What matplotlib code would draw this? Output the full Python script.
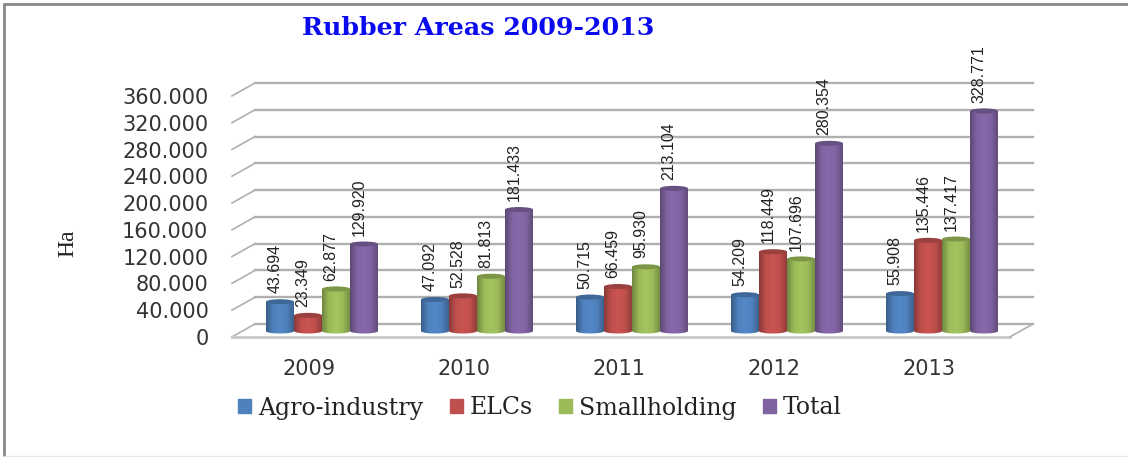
import numpy as np
import matplotlib
matplotlib.use('Agg')
import matplotlib.pyplot as plt
from matplotlib.colors import LinearSegmentedColormap, to_rgb
from matplotlib.lines import Line2D
from matplotlib.patches import Ellipse, Polygon, Rectangle
from matplotlib.transforms import ScaledTranslation

years = ['2009', '2010', '2011', '2012', '2013']
agro = [43694, 47092, 50715, 54209, 55908]
elcs = [23349, 52528, 66459, 118449, 135446]
small = [62877, 81813, 95930, 107696, 137417]
total = [129920, 181433, 213104, 280354, 328771]
names = ['Agro-industry', 'ELCs', 'Smallholding', 'Total']
colors = ['#4F81BD', '#C0504D', '#9BBB59', '#8064A2']
yticks = [0, 40000, 80000, 120000, 160000, 200000, 240000, 280000, 320000, 360000]


def dotted(v):
    return f'{v:,}'.replace(',', '.')


def shade(c, f):
    return tuple(min(1, x * f) for x in to_rgb(c))


fig = plt.figure(figsize=(11.28, 4.57), dpi=100)
ax = fig.add_axes([232 / 1128, (457 - 331) / 457, 778 / 1128, 241 / 457])

xlim = (-90 / 155, 688 / 155)
ylim = (0, 360000)
bw = 28 / 155
ell_h = 7500
depth_x = 23 / 155
back_dy = 10500
front_dy = -8800

# back wall and floor
for t in yticks:
    ax.plot([xlim[0] + depth_x, xlim[1] + depth_x], [t + back_dy, t + back_dy],
            color='#b0b0b0', lw=1.7, clip_on=False, zorder=1)
    ax.plot([xlim[0], xlim[0] + depth_x], [t + front_dy, t + back_dy],
            color='#b0b0b0', lw=1.2, clip_on=False, zorder=1)
ax.plot(xlim, [front_dy, front_dy], color='#c8c8c8', lw=2, clip_on=False, zorder=1)
ax.plot([xlim[1], xlim[1] + depth_x], [front_dy, back_dy],
        color='#b0b0b0', lw=1.2, clip_on=False, zorder=1)

x = np.arange(len(years))
series = [agro, elcs, small, total]
for j, vals in enumerate(series):
    c = colors[j]
    cmap = LinearSegmentedColormap.from_list(
        'cyl', [shade(c, 0.72), shade(c, 1.0), shade(c, 1.05), shade(c, 1.0), shade(c, 0.76)])
    z = 3 + j
    bars = ax.bar(x + (j - 1.5) * bw, vals, bw, color=c, label=names[j], zorder=z, clip_on=False)
    for b, v in zip(bars, vals):
        x0 = b.get_x()
        x1 = x0 + bw
        t = np.linspace(0, np.pi, 30)
        outline = list(zip((x0 + x1) / 2 + bw / 2 * np.cos(t), -ell_h / 2 * np.sin(t)))
        outline += [(x0, v), (x1, v)]
        clip = Polygon(outline, closed=True, transform=ax.transData)
        im = ax.imshow(np.linspace(0, 1, 60).reshape(1, -1), extent=(x0, x1, -ell_h, v),
                       aspect='auto', cmap=cmap, zorder=z, interpolation='bilinear')
        im.set_clip_box(fig.bbox)
        im.set_clip_path(clip)
        b.set_visible(False)
        ax.add_patch(Ellipse((x0 + bw / 2, v), bw, ell_h, facecolor=shade(c, 0.8),
                             edgecolor='none', zorder=z + 0.1, clip_on=False))
        ax.annotate(dotted(v), (x0 + bw / 2, v), xytext=(-3.5, 6), textcoords='offset points',
                    rotation=90, ha='center', va='bottom', fontsize=11.5, color='#222222',
                    family='Liberation Sans', zorder=10, annotation_clip=False)

ax.set_xlim(xlim)
ax.set_ylim(ylim)
for s in ax.spines.values():
    s.set_visible(False)
ax.patch.set_visible(False)

ax.set_yticks(yticks)
ax.set_yticklabels(['0' if t == 0 else dotted(t) for t in yticks], fontsize=15, color='#333333')
ax.set_xticks(x)
ax.set_xticklabels(years, fontsize=15, color='#333333')
ax.tick_params(axis='y', length=0, pad=17)
ax.tick_params(axis='x', length=0, pad=20)
for lab in ax.get_yticklabels():
    lab.set_transform(lab.get_transform() + ScaledTranslation(0, -6 / 100, fig.dpi_scale_trans))
for lab in ax.get_xticklabels():
    lab.set_transform(lab.get_transform() + ScaledTranslation(-13 / 100, 0, fig.dpi_scale_trans))

fig.text(478 / 1128, 1 - 28 / 457, 'Rubber Areas 2009-2013', color='#0a0aee', fontsize=18.2,
         fontweight='bold', family='DejaVu Serif', ha='center', va='center')
fig.text(68 / 1128, 1 - 243 / 457, 'Ha', rotation=90, fontsize=17, color='#222222',
         family='Liberation Serif', ha='center', va='center')

handles = [Rectangle((0, 0), 1, 1, color=c) for c in colors]
fig.legend(handles, names, loc='center', ncol=4,
           bbox_to_anchor=(540 / 1128, 1 - 408 / 457), frameon=False,
           prop={'family': 'DejaVu Serif', 'size': 17}, labelcolor='#222222',
           handlelength=0.55, handleheight=0.55, handletextpad=0.3, columnspacing=1.1)

# picture frame, open on the right
fig.add_artist(Rectangle((4 / 1128, -0.01), 1.1, 1 - 4 / 457 + 0.01, fill=False,
                         edgecolor='#888888', lw=2, transform=fig.transFigure))
fig.add_artist(Line2D([4 / 1128, 1], [1 / 457, 1 / 457], color='#e6e6e6', lw=1,
                      transform=fig.transFigure))

plt.savefig('out.png', dpi=100)
